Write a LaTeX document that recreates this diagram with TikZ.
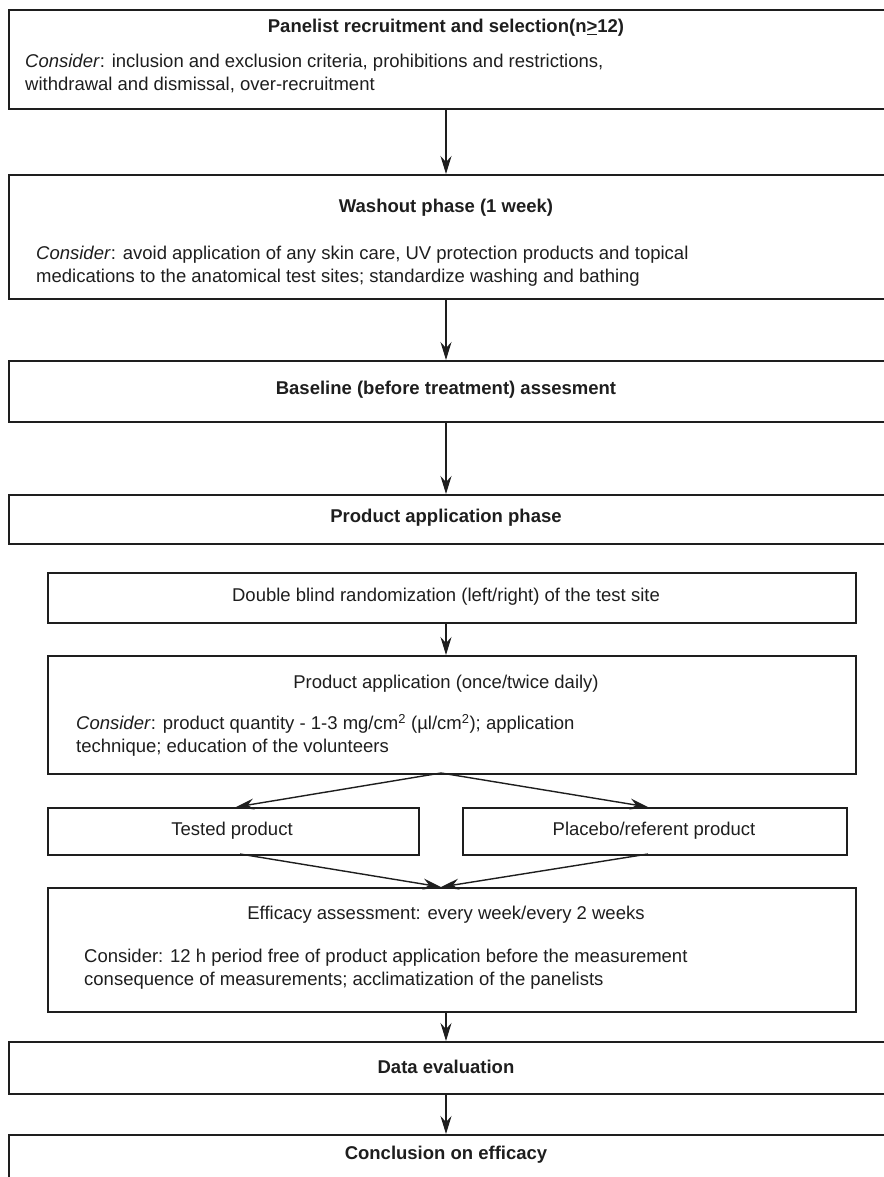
\documentclass[tikz,border=0pt]{standalone}
\usepackage{fontspec}
\setmainfont{Liberation Sans}
\usetikzlibrary{arrows.meta}
\definecolor{ink}{HTML}{1E1E1E}
\begin{document}
\begin{tikzpicture}[x=1pt,y=-1pt,
  box/.style={draw=ink, line width=1.8pt, anchor=north west, inner sep=0pt},
  lbl/.style={text=ink, inner sep=0pt, font=\fontsize{18.5}{23}\selectfont},
  ttl/.style={lbl, font=\fontsize{18.5}{23}\selectfont\bfseries},
  cons/.style={lbl, anchor=west, align=left},
  arr/.style={draw=ink, line width=1.4pt, -{Stealth[length=18pt,width=11pt,inset=6pt]}}
]
\useasboundingbox[fill=white] (0,0) rectangle (883,1177);
% boxes
\node[box, minimum width=882pt, minimum height=99pt]  (b1)  at (8,9) {};
\node[box, minimum width=882pt, minimum height=124pt] (b2)  at (8,174) {};
\node[box, minimum width=882pt, minimum height=61pt]  (b3)  at (8,360) {};
\node[box, minimum width=882pt, minimum height=49pt]  (b4)  at (8,494) {};
\node[box, minimum width=808pt, minimum height=50pt]  (b5)  at (47,572) {};
\node[box, minimum width=808pt, minimum height=118pt] (b6)  at (47,655) {};
\node[box, minimum width=371pt, minimum height=47pt]  (b7)  at (47,807) {};
\node[box, minimum width=384pt, minimum height=47pt]  (b8)  at (462,807) {};
\node[box, minimum width=808pt, minimum height=124pt] (b9)  at (47,887) {};
\node[box, minimum width=882pt, minimum height=52pt]  (b10) at (8,1041) {};
\node[box, minimum width=882pt, minimum height=70pt]  (b11) at (8,1134) {};
% texts
\node[ttl] (t1) at (446,28) {Panelist recruitment and selection(n\underline{>}12)};
\node[cons] (c1) at (25,73.5) {\textit{Consider}: inclusion and exclusion criteria, prohibitions and restrictions,\\withdrawal and dismissal, over-recruitment};
\node[ttl] (t2) at (446,208) {Washout phase (1 week)};
\node[cons] (c2) at (36,266.5) {\textit{Consider}: avoid application of any skin care, UV protection products and topical\\medications to the anatomical test sites; standardize washing and bathing};
\node[ttl] (t3) at (446,390) {Baseline (before treatment) assesment};
\node[ttl] (t4) at (446,518) {Product application phase};
\node[lbl] (t5) at (446,597) {Double blind randomization (left/right) of the test site};
\node[lbl] (t6) at (446,684) {Product application (once/twice daily)};
\node[cons] (c6) at (76,735.5) {\textit{Consider}: product quantity - 1-3 mg/cm\textsuperscript{2} (µl/cm\textsuperscript{2}); application\\technique; education of the volunteers};
\node[lbl] (t7) at (232,831) {Tested product};
\node[lbl] (t8) at (654,831) {Placebo/referent product};
\node[lbl] (t9) at (446,915) {Efficacy assessment: every week/every 2 weeks};
\node[cons] (c9) at (84,969.5) {Consider: 12 h period free of product application before the measurement\\consequence of measurements; acclimatization of the panelists};
\node[ttl] (t10) at (446,1067) {Data evaluation};
\node[ttl] (t11) at (446,1155) {Conclusion on efficacy};
% connector points
\coordinate (split) at (441,773);
\coordinate (merge) at (441,887);
\coordinate (l7top) at (236,807);
\coordinate (l8top) at (648,807);
\coordinate (l7bot) at (240,854);
\coordinate (l8bot) at (648,854);
% arrows
\draw[arr] (b1.south -| t1) -- (b2.north -| t1);
\draw[arr] (b2.south -| t1) -- (b3.north -| t1);
\draw[arr] (b3.south -| t1) -- (b4.north -| t1);
\draw[arr] (b5.south -| t1) -- (b6.north -| t1);
\draw[arr] (split) -- (l7top);
\draw[arr] (split) -- (l8top);
\draw[arr] (l7bot) -- (merge);
\draw[arr] (l8bot) -- (merge);
\draw[arr] (b9.south -| t1) -- (b10.north -| t1);
\draw[arr] (b10.south -| t1) -- (b11.north -| t1);
\end{tikzpicture}
\end{document}
